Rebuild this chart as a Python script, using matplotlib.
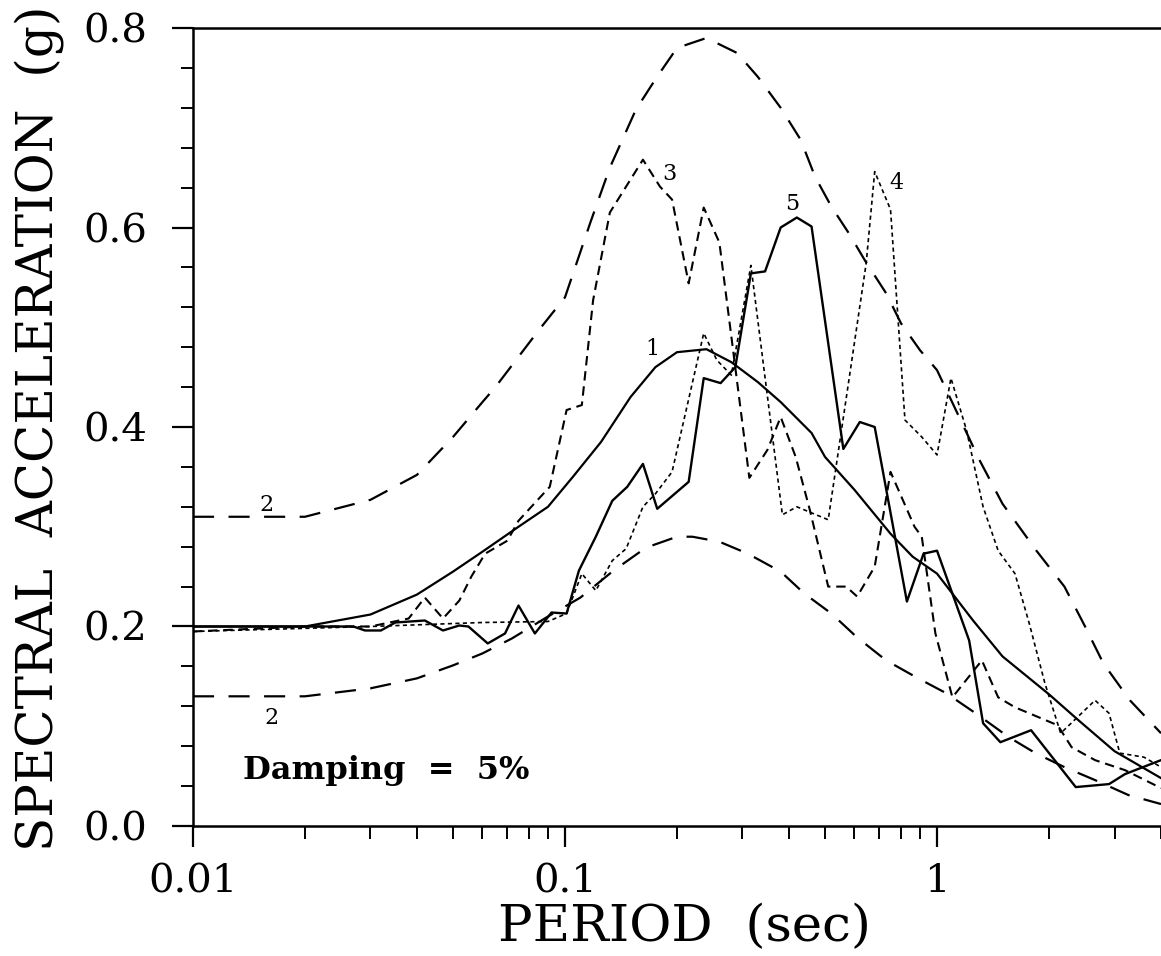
import matplotlib
matplotlib.use("Agg")
import matplotlib.pyplot as plt
from matplotlib.ticker import LogLocator, MultipleLocator, FuncFormatter, NullFormatter

plt.rcParams['font.family'] = ['DejaVu Serif']

# curve 1: smooth mean spectrum (solid)
t1 = [0.01, 0.02, 0.03, 0.04, 0.05, 0.06, 0.075, 0.09, 0.105, 0.125, 0.15, 0.175,
      0.2, 0.24, 0.28, 0.33, 0.38, 0.46, 0.5, 0.6, 0.75, 0.86, 1.0, 1.25, 1.5,
      2.0, 2.4, 3.0, 4.0]
sa1 = [0.2, 0.2, 0.212, 0.232, 0.255, 0.275, 0.30, 0.32, 0.35, 0.385, 0.43, 0.46,
       0.475, 0.478, 0.465, 0.445, 0.425, 0.394, 0.37, 0.337, 0.293, 0.27, 0.253,
       0.206, 0.17, 0.132, 0.106, 0.075, 0.048]

# curve 2: upper and lower bounds (long dash)
t2u = [0.01, 0.02, 0.03, 0.04, 0.05, 0.06, 0.065, 0.085, 0.1, 0.117, 0.132, 0.155,
       0.176, 0.2, 0.24, 0.29, 0.33, 0.38, 0.43, 0.47, 0.52, 0.58, 0.64, 0.73,
       0.8, 0.9, 1.0, 1.3, 1.5, 1.85, 2.2, 2.5, 2.8, 3.3, 4.0]
sa2u = [0.31, 0.31, 0.327, 0.352, 0.39, 0.425, 0.44, 0.497, 0.53, 0.605, 0.66, 0.718,
        0.75, 0.78, 0.79, 0.775, 0.751, 0.72, 0.688, 0.651, 0.621, 0.594, 0.567,
        0.534, 0.504, 0.477, 0.457, 0.367, 0.323, 0.276, 0.24, 0.20, 0.163, 0.126,
        0.093]
t2l = [0.01, 0.02, 0.03, 0.04, 0.05, 0.06, 0.072, 0.09, 0.11, 0.135, 0.165, 0.2,
       0.22, 0.26, 0.31, 0.38, 0.44, 0.52, 0.61, 0.73, 0.88, 1.06, 1.27, 1.56,
       1.84, 2.2, 2.66, 3.27, 4.0]
sa2l = [0.13, 0.13, 0.138, 0.148, 0.161, 0.173, 0.188, 0.21, 0.229, 0.256, 0.279,
        0.29, 0.29, 0.285, 0.273, 0.255, 0.233, 0.213, 0.189, 0.166, 0.149, 0.133,
        0.113, 0.089, 0.073, 0.059, 0.046, 0.031, 0.022]

# curve 3 (medium dash)
t3 = [0.01, 0.02, 0.03, 0.038, 0.042, 0.047, 0.052, 0.056, 0.061, 0.07, 0.075,
      0.084, 0.091, 0.101, 0.111, 0.119, 0.132, 0.162, 0.18, 0.194, 0.215, 0.236,
      0.26, 0.313, 0.35, 0.38, 0.417, 0.455, 0.51, 0.57, 0.61, 0.68, 0.75, 0.87,
      0.91, 0.99, 1.1, 1.32, 1.46, 1.62, 2.11, 2.3, 2.66, 3.2, 4.0]
sa3 = [0.195, 0.2, 0.2, 0.208, 0.229, 0.208, 0.226, 0.25, 0.273, 0.286, 0.306,
       0.326, 0.34, 0.417, 0.422, 0.527, 0.615, 0.668, 0.641, 0.628, 0.544, 0.62,
       0.585, 0.349, 0.377, 0.41, 0.37, 0.317, 0.24, 0.24, 0.23, 0.26, 0.355, 0.3,
       0.29, 0.193, 0.129, 0.166, 0.129, 0.119, 0.101, 0.079, 0.066, 0.056, 0.038]

# curve 4 (fine dots)
t4 = [0.01, 0.03, 0.06, 0.09, 0.101, 0.111, 0.121, 0.134, 0.146, 0.162, 0.175,
      0.194, 0.236, 0.256, 0.28, 0.316, 0.384, 0.42, 0.51, 0.645, 0.68, 0.75,
      0.82, 0.91, 1.0, 1.09, 1.2, 1.33, 1.46, 1.62, 1.77, 1.95, 2.15, 2.66, 2.9,
      3.1, 3.6, 4.0]
sa4 = [0.195, 0.2, 0.204, 0.205, 0.213, 0.253, 0.236, 0.266, 0.278, 0.32, 0.333,
       0.355, 0.494, 0.467, 0.452, 0.562, 0.312, 0.32, 0.307, 0.564, 0.656, 0.618,
       0.407, 0.39, 0.372, 0.449, 0.397, 0.32, 0.276, 0.253, 0.203, 0.143, 0.093,
       0.126, 0.113, 0.073, 0.069, 0.059]

# curve 5 (solid, jagged)
t5 = [0.01, 0.02, 0.027, 0.029, 0.032, 0.035, 0.042, 0.047, 0.052, 0.055, 0.062,
      0.069, 0.075, 0.083, 0.092, 0.101, 0.109, 0.121, 0.134, 0.147, 0.162, 0.177,
      0.215, 0.236, 0.262, 0.287, 0.316, 0.345, 0.38, 0.42, 0.46, 0.56, 0.62,
      0.68, 0.83, 0.92, 1.0, 1.22, 1.33, 1.48, 1.79, 2.36, 2.9, 3.2, 4.0]
sa5 = [0.2, 0.2, 0.2, 0.196, 0.196, 0.204, 0.206, 0.196, 0.201, 0.2, 0.183,
       0.193, 0.221, 0.193, 0.214, 0.213, 0.256, 0.29, 0.326, 0.34, 0.363, 0.318,
       0.345, 0.449, 0.444, 0.46, 0.554, 0.556, 0.6, 0.61, 0.601, 0.378, 0.405,
       0.4, 0.225, 0.273, 0.276, 0.186, 0.103, 0.084, 0.096, 0.039, 0.042, 0.052,
       0.066]

curve_labels = ["1", "2", "2", "3", "4", "5"]
label_pos = [(0.172, 0.478), (0.0158, 0.322), (0.0163, 0.108), (0.191, 0.654),
             (0.776, 0.645), (0.408, 0.624)]

fig = plt.figure(figsize=(11.61, 9.56), dpi=100)
ax = fig.add_axes([0.1662, 0.136, 0.8338, 0.8347])

ax.plot(t1, sa1, color='black', lw=1.6)
ax.plot(t2u, sa2u, color='black', lw=1.6, dashes=(9.5, 6.5))
ax.plot(t2l, sa2l, color='black', lw=1.6, dashes=(9.5, 6.5))
ax.plot(t3, sa3, color='black', lw=1.5, dashes=(4.5, 2.8))
ax.plot(t4, sa4, color='black', lw=1.2, dashes=(2.5, 2.0))
ax.plot(t5, sa5, color='black', lw=1.7)

for lab, (x, y) in zip(curve_labels, label_pos):
    ax.text(x, y, lab, fontsize=16, ha='center', va='center')

ax.text(0.0136, 0.056, "Damping  =  5%", fontsize=23, fontweight='bold',
        ha='left', va='center')

ax.set_xscale('log')
ax.set_xlim(0.01, 4.0)
ax.set_ylim(0.0, 0.8)

ax.xaxis.set_major_locator(LogLocator(base=10, numticks=10))
ax.xaxis.set_minor_locator(LogLocator(base=10, subs=range(2, 10), numticks=20))
ax.xaxis.set_major_formatter(FuncFormatter(lambda v, p: f"{v:g}"))
ax.xaxis.set_minor_formatter(NullFormatter())
ax.yaxis.set_major_locator(MultipleLocator(0.2))
ax.yaxis.set_minor_locator(MultipleLocator(0.04))
ax.yaxis.set_major_formatter(FuncFormatter(lambda v, p: f"{v:.1f}"))

ax.tick_params(which='major', direction='out', length=15, width=1.6, labelsize=29)
ax.tick_params(which='minor', direction='out', length=9, width=1.4)
ax.tick_params(axis='x', which='major', pad=12)
ax.tick_params(axis='y', which='major', pad=18)

for side in ['left', 'bottom', 'top']:
    ax.spines[side].set_linewidth(1.8)
ax.spines['right'].set_visible(False)

fig.text(0.59, 0.03, "PERIOD  (sec)", fontsize=37, ha='center', va='center')
fig.text(0.034, 0.552, "SPECTRAL  ACCELERATION  (g)", fontsize=36,
         rotation=90, ha='center', va='center')

fig.savefig("out.png", dpi=100)
